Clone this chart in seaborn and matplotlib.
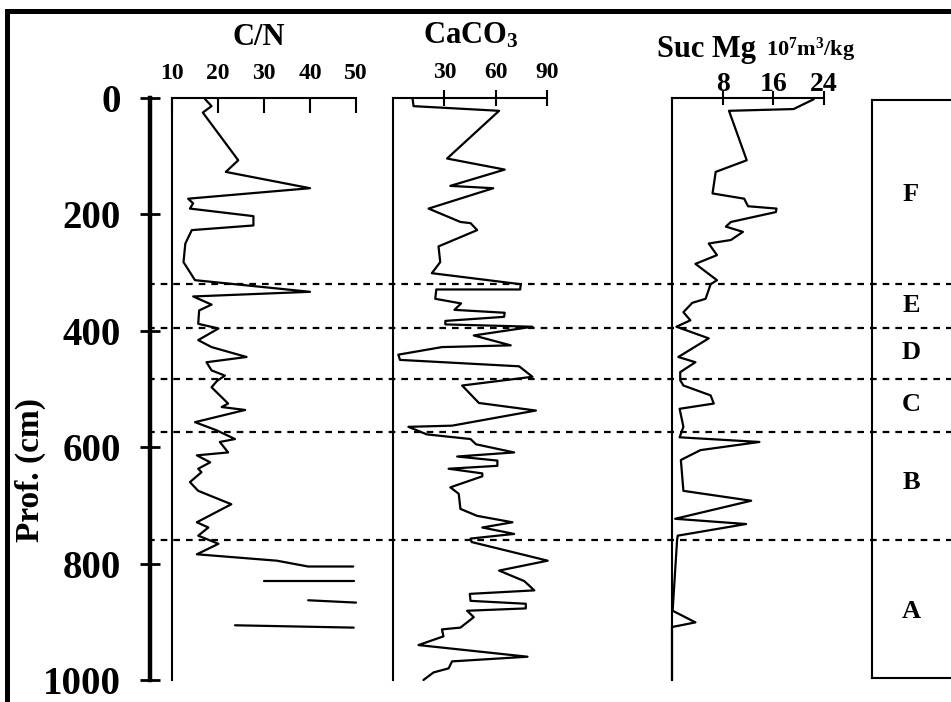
import matplotlib
matplotlib.use("Agg")
import matplotlib.pyplot as plt
import seaborn as sns
import pandas as pd
from matplotlib.patches import Rectangle

# ---------------- data ----------------
depth_ticks = [0, 200, 400, 600, 800, 1000]
cn_ticks = [10, 20, 30, 40, 50]
caco3_ticks = [30, 60, 90]
mg_ticks = [8, 16, 24]

cn_depth = [2, 14, 25, 107, 127, 155, 173, 181, 190, 203, 219, 227, 250, 282, 313, 333, 341,
            355, 365, 388, 396, 416, 428, 445, 454, 468, 477, 486, 497, 525, 531, 536, 557,
            571, 586, 591, 609, 614, 626, 637, 643, 660, 675, 698, 729, 738, 752, 766, 784,
            795, 805, 805,
            830, 830,
            863, 867,
            906, 910]
cn_value = [17.2, 18.6, 16.7, 24.4, 21.7, 40.0, 13.5, 14.6, 13.9, 27.7, 27.7, 14.3, 12.9, 12.5,
            15.0, 40.0, 14.6, 18.6, 15.9, 15.7, 20.1, 15.7, 18.6, 26.2, 17.5, 18.6, 21.5, 19.8,
            18.6, 22.2, 20.8, 25.9, 15.0, 19.7, 23.7, 20.4, 22.2, 15.4, 18.3, 15.7, 16.4, 13.9,
            15.7, 22.9, 15.4, 17.9, 15.7, 20.1, 15.4, 32.8, 39.6, 49.4,
            30.0, 49.5,
            39.6, 50.0,
            23.7, 49.5]
cn_segment = [0] * 52 + [1, 1] + [2, 2] + [3, 3]

caco3_depth = [0, 14, 22, 104, 123, 151, 155, 190, 213, 215, 227, 255, 282, 301, 320, 329, 329,
               345, 353, 364, 369, 376, 383, 389, 393, 408, 425, 428, 441, 450, 461, 479, 494,
               524, 537, 563, 565, 578, 586, 595, 609, 616, 623, 632, 637, 645, 650, 669, 680,
               706, 718, 729, 738, 749, 757, 763, 795, 812, 830, 846, 852, 864, 869, 877, 881,
               892, 910, 913, 925, 940, 960, 968, 980, 987, 1000]
caco3_value = [11.4, 12.0, 62.0, 31.6, 65.3, 33.5, 58.6, 20.8, 39.4, 45.3, 49.2, 26.6, 27.6,
               22.7, 74.7, 74.3, 25.3, 24.7, 39.8, 35.9, 65.3, 64.9, 30.6, 30.6, 81.5, 47.2,
               68.8, 28.6, 3.1, 4.1, 73.7, 81.5, 40.4, 50.2, 83.5, 34.5, 9.0, 19.8, 45.3, 48.5,
               70.8, 37.5, 61.0, 61.0, 32.5, 52.2, 52.2, 33.5, 38.4, 39.4, 49.2, 69.8, 52.2,
               70.8, 45.3, 46.0, 90.4, 62.0, 76.7, 82.6, 44.9, 45.3, 77.6, 77.6, 43.3, 47.2,
               39.4, 28.6, 29.5, 14.9, 78.6, 34.5, 32.5, 23.7, 17.8]

mg_depth = [2, 19, 22, 107, 127, 164, 173, 186, 190, 196, 213, 221, 230, 244, 250, 270, 285,
            313, 320, 345, 352, 368, 382, 393, 413, 445, 454, 471, 485, 494, 511, 525, 534,
            565, 583, 591, 605, 622, 675, 692, 723, 732, 752, 760, 881, 901, 909, 1000]
mg_value = [22.4, 19.2, 9.0, 11.8, 6.9, 6.4, 11.4, 12.0, 16.5, 16.4, 9.3, 8.5, 11.2, 9.3, 5.8,
            7.1, 3.7, 7.1, 6.1, 5.3, 3.2, 1.8, 2.9, 0.7, 5.8, 1.0, 3.7, 1.3, 1.3, 1.8, 6.1, 6.6,
            1.2, 1.8, 1.2, 13.8, 4.5, 1.4, 1.8, 12.5, 0.5, 11.7, 0.9, 0.8, 0.1, 3.7, 0.0, 0.0]

zone_bounds = [320, 395, 483, 574, 760]
zone_labels = ["F", "E", "D", "C", "B", "A"]
zone_label_depth = [165, 357, 437, 527, 660, 882]

# ---------------- style ----------------
sns.set_theme(style="white")
plt.rcParams["font.family"] = ["Liberation Serif", "DejaVu Serif"]
plt.rcParams["font.weight"] = "bold"
plt.rcParams["mathtext.fontset"] = "custom"
plt.rcParams["mathtext.rm"] = "Liberation Serif:bold"
plt.rcParams["mathtext.bf"] = "Liberation Serif:bold"
plt.rcParams["mathtext.it"] = "Liberation Serif:bold:italic"
for k in ["text.color", "axes.labelcolor", "xtick.color", "ytick.color", "axes.edgecolor"]:
    plt.rcParams[k] = "black"

W, H = 951, 702
fig = plt.figure(figsize=(W / 100, H / 100), dpi=100)
fig.patch.set_facecolor("white")


def ax_at(x0, x1, y0=98, y1=680, **kw):
    return fig.add_axes([x0 / W, 1 - y1 / H, (x1 - x0) / W, (y1 - y0) / H], **kw)


def fx(px):
    return px / W


def fy(py):
    return 1 - py / H


def style_panel(ax, xlim, ticks, labelsize, direction, length, pad):
    ax.set_xlim(*xlim)
    ax.set_ylim(1000, 0)
    ax.set_facecolor("none")
    for s in ["right", "bottom"]:
        ax.spines[s].set_visible(False)
    for s in ["left", "top"]:
        ax.spines[s].set_linewidth(1.5)
        ax.spines[s].set_color("black")
    ax.xaxis.tick_top()
    ax.set_xticks(ticks)
    ax.set_xticklabels([str(t) for t in ticks])
    ax.tick_params(axis="x", direction=direction, length=length, width=1.5,
                   labelsize=labelsize, pad=pad, top=True, bottom=False)
    ax.set_yticks([])
    ax.set_xlabel("")
    ax.set_ylabel("")
    for t in ax.get_xticklabels():
        t.set_fontweight("bold")
    for ln in ax.lines:
        ln.set_clip_on(False)


# ---------------- depth axis ----------------
ax_d = ax_at(150, 172)
ax_d.set_ylim(1000, 0)
ax_d.set_facecolor("none")
for s in ["right", "bottom", "top"]:
    ax_d.spines[s].set_visible(False)
ax_d.spines["left"].set_linewidth(3.2)
ax_d.set_xticks([])
ax_d.set_yticks(depth_ticks)
ax_d.set_yticklabels([str(t) for t in depth_ticks])
ax_d.tick_params(axis="y", direction="inout", length=14, width=2, labelsize=28, pad=14, left=True)
for t in ax_d.get_yticklabels():
    t.set_fontweight("bold")
fig.text(fx(30), fy(470), "Prof. (cm)", rotation=90, ha="center", va="center",
         fontsize=24, fontweight="bold")

# ---------------- C/N ----------------
ax_cn = ax_at(172, 356)
df_cn = pd.DataFrame({"depth": cn_depth, "value": cn_value, "segment": cn_segment})
sns.lineplot(data=df_cn, x="value", y="depth", units="segment", estimator=None, sort=False,
             orient="y", color="black", lw=1.6, ax=ax_cn, legend=False)
style_panel(ax_cn, (10, 50), cn_ticks, 17, "in", 11, 10)
fig.text(fx(259), fy(45), "C/N", ha="center", va="baseline", fontsize=22, fontweight="bold")

# ---------------- CaCO3 ----------------
ax_ca = ax_at(393, 547)
df_ca = pd.DataFrame({"depth": caco3_depth, "value": caco3_value})
sns.lineplot(data=df_ca, x="value", y="depth", estimator=None, sort=False, orient="y",
             color="black", lw=1.6, ax=ax_ca, legend=False)
style_panel(ax_ca, (0, 90), caco3_ticks, 17, "inout", 11, 5)
fig.text(fx(471), fy(43), r"CaCO$_3$", ha="center", va="baseline", fontsize=22,
         fontweight="bold")

# ---------------- Suc Mg ----------------
ax_mg = ax_at(672, 824)
df_mg = pd.DataFrame({"depth": mg_depth, "value": mg_value})
sns.lineplot(data=df_mg, x="value", y="depth", estimator=None, sort=False, orient="y",
             color="black", lw=1.6, ax=ax_mg, legend=False)
style_panel(ax_mg, (0, 24), mg_ticks, 20, "inout", 10, -4)
fig.text(fx(657), fy(57), "Suc Mg", ha="left", va="baseline", fontsize=22, fontweight="bold")
fig.text(fx(766), fy(56), r"10$^7$m$^3$/kg", ha="left", va="baseline", fontsize=16,
         fontweight="bold")

# ---------------- zone box ----------------
ax_box = ax_at(872, 1000, 100, 678)
ax_box.set_facecolor("none")
ax_box.set_xticks([])
ax_box.set_yticks([])
ax_box.spines["right"].set_visible(False)
for s in ["left", "top", "bottom"]:
    ax_box.spines[s].set_linewidth(1.5)
    ax_box.spines[s].set_color("black")

# ---------------- zone boundaries (dashed) + labels ----------------
ax_ov = ax_at(148, 960, zorder=10)
ax_ov.set_xlim(0, 1)
ax_ov.set_ylim(1000, 0)
ax_ov.axis("off")
ax_ov.hlines(zone_bounds, 0, 1, colors="black", linestyles=(0, (3, 2.7)), lw=1.6)
lx = (911 - 148) / (960 - 148)
for lab, d in zip(zone_labels, zone_label_depth):
    ax_ov.text(lx, d, lab, ha="center", va="center", fontsize=19, fontweight="bold")

# ---------------- outer frame ----------------
fig.add_artist(Rectangle((fx(7), -0.2), 2, fy(11) + 0.2, transform=fig.transFigure,
                         fill=False, lw=3.6, ec="black"))

fig.savefig("out.png", dpi=100)
